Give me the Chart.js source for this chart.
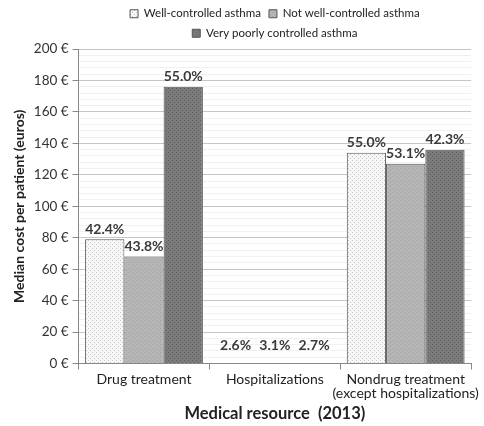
<!DOCTYPE html>
<html lang="en">
<head>
<meta charset="UTF-8">
<title>Median cost per patient by asthma control</title>
<script src="https://cdn.jsdelivr.net/npm/chart.js"></script>
<style>
  html, body { margin: 0; padding: 0; background: #fff; }
  #wrap { width: 484px; height: 426px; }
</style>
</head>
<body>
<div id="wrap"><canvas id="costChart"></canvas></div>
<script>
// data
const resources = ['Drug treatment', 'Hospitalizations', ['Nondrug treatment', '(except hospitalizations)']];
const seriesNames = ['Well-controlled asthma', 'Not well-controlled asthma', 'Very poorly controlled asthma'];
const wellCost = [79, 0, 134];
const notWellCost = [68, 0, 127];
const poorCost = [176, 0, 136];
const wellPct = ['42.4%', '2.6%', '55.0%'];
const notWellPct = ['43.8%', '3.1%', '53.1%'];
const poorPct = ['55.0%', '2.7%', '42.3%'];

// little canvas textures for the bars
function makePattern(bg, dot, step) {
  const c = document.createElement('canvas');
  c.width = step; c.height = step;
  const g = c.getContext('2d');
  g.fillStyle = bg;
  g.fillRect(0, 0, step, step);
  g.fillStyle = dot;
  g.fillRect(0, 0, 1, 1);
  g.fillRect(step / 2, step / 2, 1, 1);
  return g.createPattern(c, 'repeat');
}
const ctx = document.getElementById('costChart').getContext('2d');
const pWell = makePattern('#f7f7f7', '#c4c4c4', 4);
const pNotWell = makePattern('#b5b5b5', '#a2a2a2', 4);
const pPoor = makePattern('#7b7b7b', '#5e5e5e', 4);

// percentage labels above each bar
const pctLabels = {
  id: 'pctLabels',
  afterDatasetsDraw(chart) {
    const c = chart.ctx;
    const lists = [wellPct, notWellPct, poorPct];
    c.save();
    c.font = 'bold 14px Lato';
    c.fillStyle = '#3a3a3a';
    c.textAlign = 'center';
    c.textBaseline = 'bottom';
    chart.data.datasets.forEach((ds, i) => {
      chart.getDatasetMeta(i).data.forEach((bar, j) => {
        let y = bar.y - 3;
        if (ds.data[j] === 0) y = bar.y - 11;
        c.fillText(lists[i][j], bar.x, y);
      });
    });
    c.restore();
  }
};

new Chart(ctx, {
  type: 'bar',
  data: {
    labels: resources,
    datasets: [
      { label: seriesNames[0], data: wellCost, backgroundColor: pWell },
      { label: seriesNames[1], data: notWellCost, backgroundColor: pNotWell },
      { label: seriesNames[2], data: poorCost, backgroundColor: pPoor }
    ]
  },
  options: {
    responsive: true,
    maintainAspectRatio: false,
    animation: false,
    datasets: {
      bar: {
        borderColor: '#555',
        borderWidth: 1,
        categoryPercentage: 0.9,
        barPercentage: 1
      }
    },
    layout: { padding: { left: 7, right: 11, top: 0, bottom: 2 } },
    plugins: {
      tooltip: { enabled: false },
      legend: {
        position: 'top',
        fullSize: false,
        labels: {
          font: { family: 'Lato', size: 11.5 },
          color: '#222',
          boxWidth: 8,
          boxHeight: 8,
          padding: 8
        }
      }
    },
    scales: {
      x: {
        grid: {
          offset: true,
          drawOnChartArea: false,
          tickLength: 6,
          color: '#888'
        },
        border: { color: '#888' },
        ticks: {
          autoSkip: false,
          font: { family: 'Lato', size: 14, lineHeight: 1.0 },
          color: '#222',
          maxRotation: 0,
          padding: 3
        },
        title: {
          display: true,
          text: 'Medical resource  (2013)',
          font: { family: 'Lato', size: 16.5, weight: 'bold', lineHeight: 1 },
          color: '#222',
          padding: { top: 2, bottom: 2 }
        }
      },
      y: {
        min: 0,
        max: 200,
        grid: {
          color: c => (c.tick && c.tick.value % 20 === 0) ? '#c6c6c6' : '#f0f0f0',
          tickColor: c => (c.tick && c.tick.value % 20 === 0) ? '#888' : 'rgba(0,0,0,0)',
          tickLength: 6
        },
        border: { color: '#888' },
        ticks: {
          stepSize: 4,
          autoSkip: false,
          font: { family: 'Lato', size: 13.5 },
          color: '#333',
          padding: 4,
          callback: v => (v % 20 === 0) ? v + ' €' : ''
        },
        title: {
          display: true,
          text: 'Median cost per patient (euros)',
          font: { family: 'Lato', size: 14, weight: 'bold' },
          color: '#222',
          padding: { top: 4, bottom: 2 }
        }
      }
    }
  },
  plugins: [pctLabels]
});
</script>
</body>
</html>
